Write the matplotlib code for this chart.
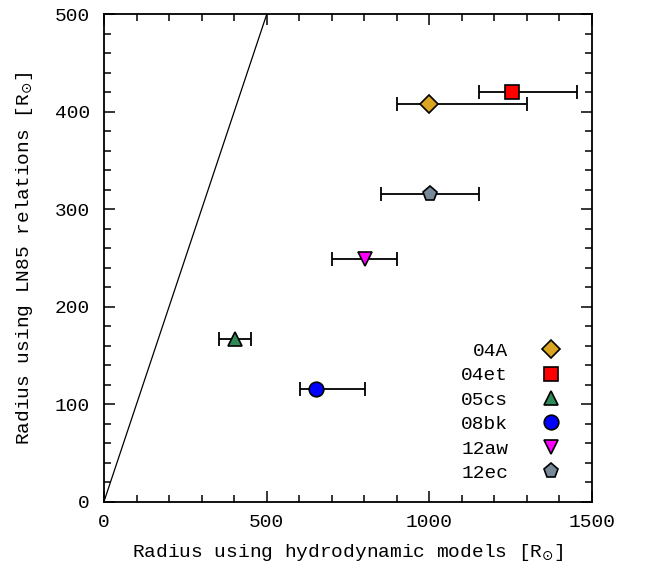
import matplotlib
matplotlib.use("Agg")
import matplotlib.pyplot as plt
from matplotlib import rcParams
from matplotlib.ticker import MultipleLocator

rcParams["font.family"] = ["Liberation Mono", "DejaVu Sans Mono"]
rcParams["font.size"] = 14

# supernova radii: hydrodynamic models (x, with asymmetric errors) vs LN85 relations (y)
names = ["04A", "04et", "05cs", "08bk", "12aw", "12ec"]
r_hydro = [1000, 1253, 402, 652, 802, 1002]
err_lo = [100, 100, 50, 50, 100, 150]
err_hi = [300, 200, 50, 150, 100, 150]
r_ln85 = [408, 420, 167, 115, 249, 316]
markers = ["D", "s", "^", "o", "v", "p"]
colors = ["#DAA520", "#FF0000", "#2E8B57", "#0000FF", "#FF00FF", "#778899"]
msizes = [9, 10.5, 10.5, 10.5, 10.5, 11]

one_to_one = [0, 500]

fig = plt.figure(figsize=(6.48, 5.67), dpi=100)
ax = fig.add_axes([0.1605, 0.1155, 0.7531, 0.859])

ax.plot(one_to_one, one_to_one, color="black", lw=0.9)

for n, x, lo, hi, y, m, c, ms in zip(names, r_hydro, err_lo, err_hi, r_ln85, markers, colors, msizes):
    ax.errorbar(x, y, xerr=[[lo], [hi]], fmt="none", ecolor="black",
                elinewidth=1.3, capsize=5, capthick=1.3, zorder=2)
    ax.plot(x, y, linestyle="none", marker=m, ms=ms, mfc=c, mec="black",
            mew=1.2, label=n, zorder=3)

ax.set_xlim(0, 1500)
ax.set_ylim(0, 500)
ax.xaxis.set_major_locator(MultipleLocator(500))
ax.xaxis.set_minor_locator(MultipleLocator(100))
ax.yaxis.set_major_locator(MultipleLocator(100))
ax.yaxis.set_minor_locator(MultipleLocator(20))
ax.tick_params(which="both", direction="in", top=True, right=True, width=1.1)
ax.tick_params(which="major", length=8)
ax.tick_params(which="minor", length=5)
ax.tick_params(axis="x", pad=9)
ax.tick_params(axis="y", pad=10)
for s in ax.spines.values():
    s.set_linewidth(1.3)

ax.set_xlabel(r"Radius using hydrodynamic models [R$_{\odot}$]", labelpad=8)
ax.set_ylabel(r"Radius using LN85 relations [R$_{\odot}$]", labelpad=14)

ax.legend(loc="lower right", bbox_to_anchor=(0.972, 0.004), frameon=False,
          markerfirst=False, numpoints=1, handlelength=1.0, handletextpad=1.7,
          labelspacing=0.35, fontsize=14)

fig.savefig("out.png", dpi=100)
